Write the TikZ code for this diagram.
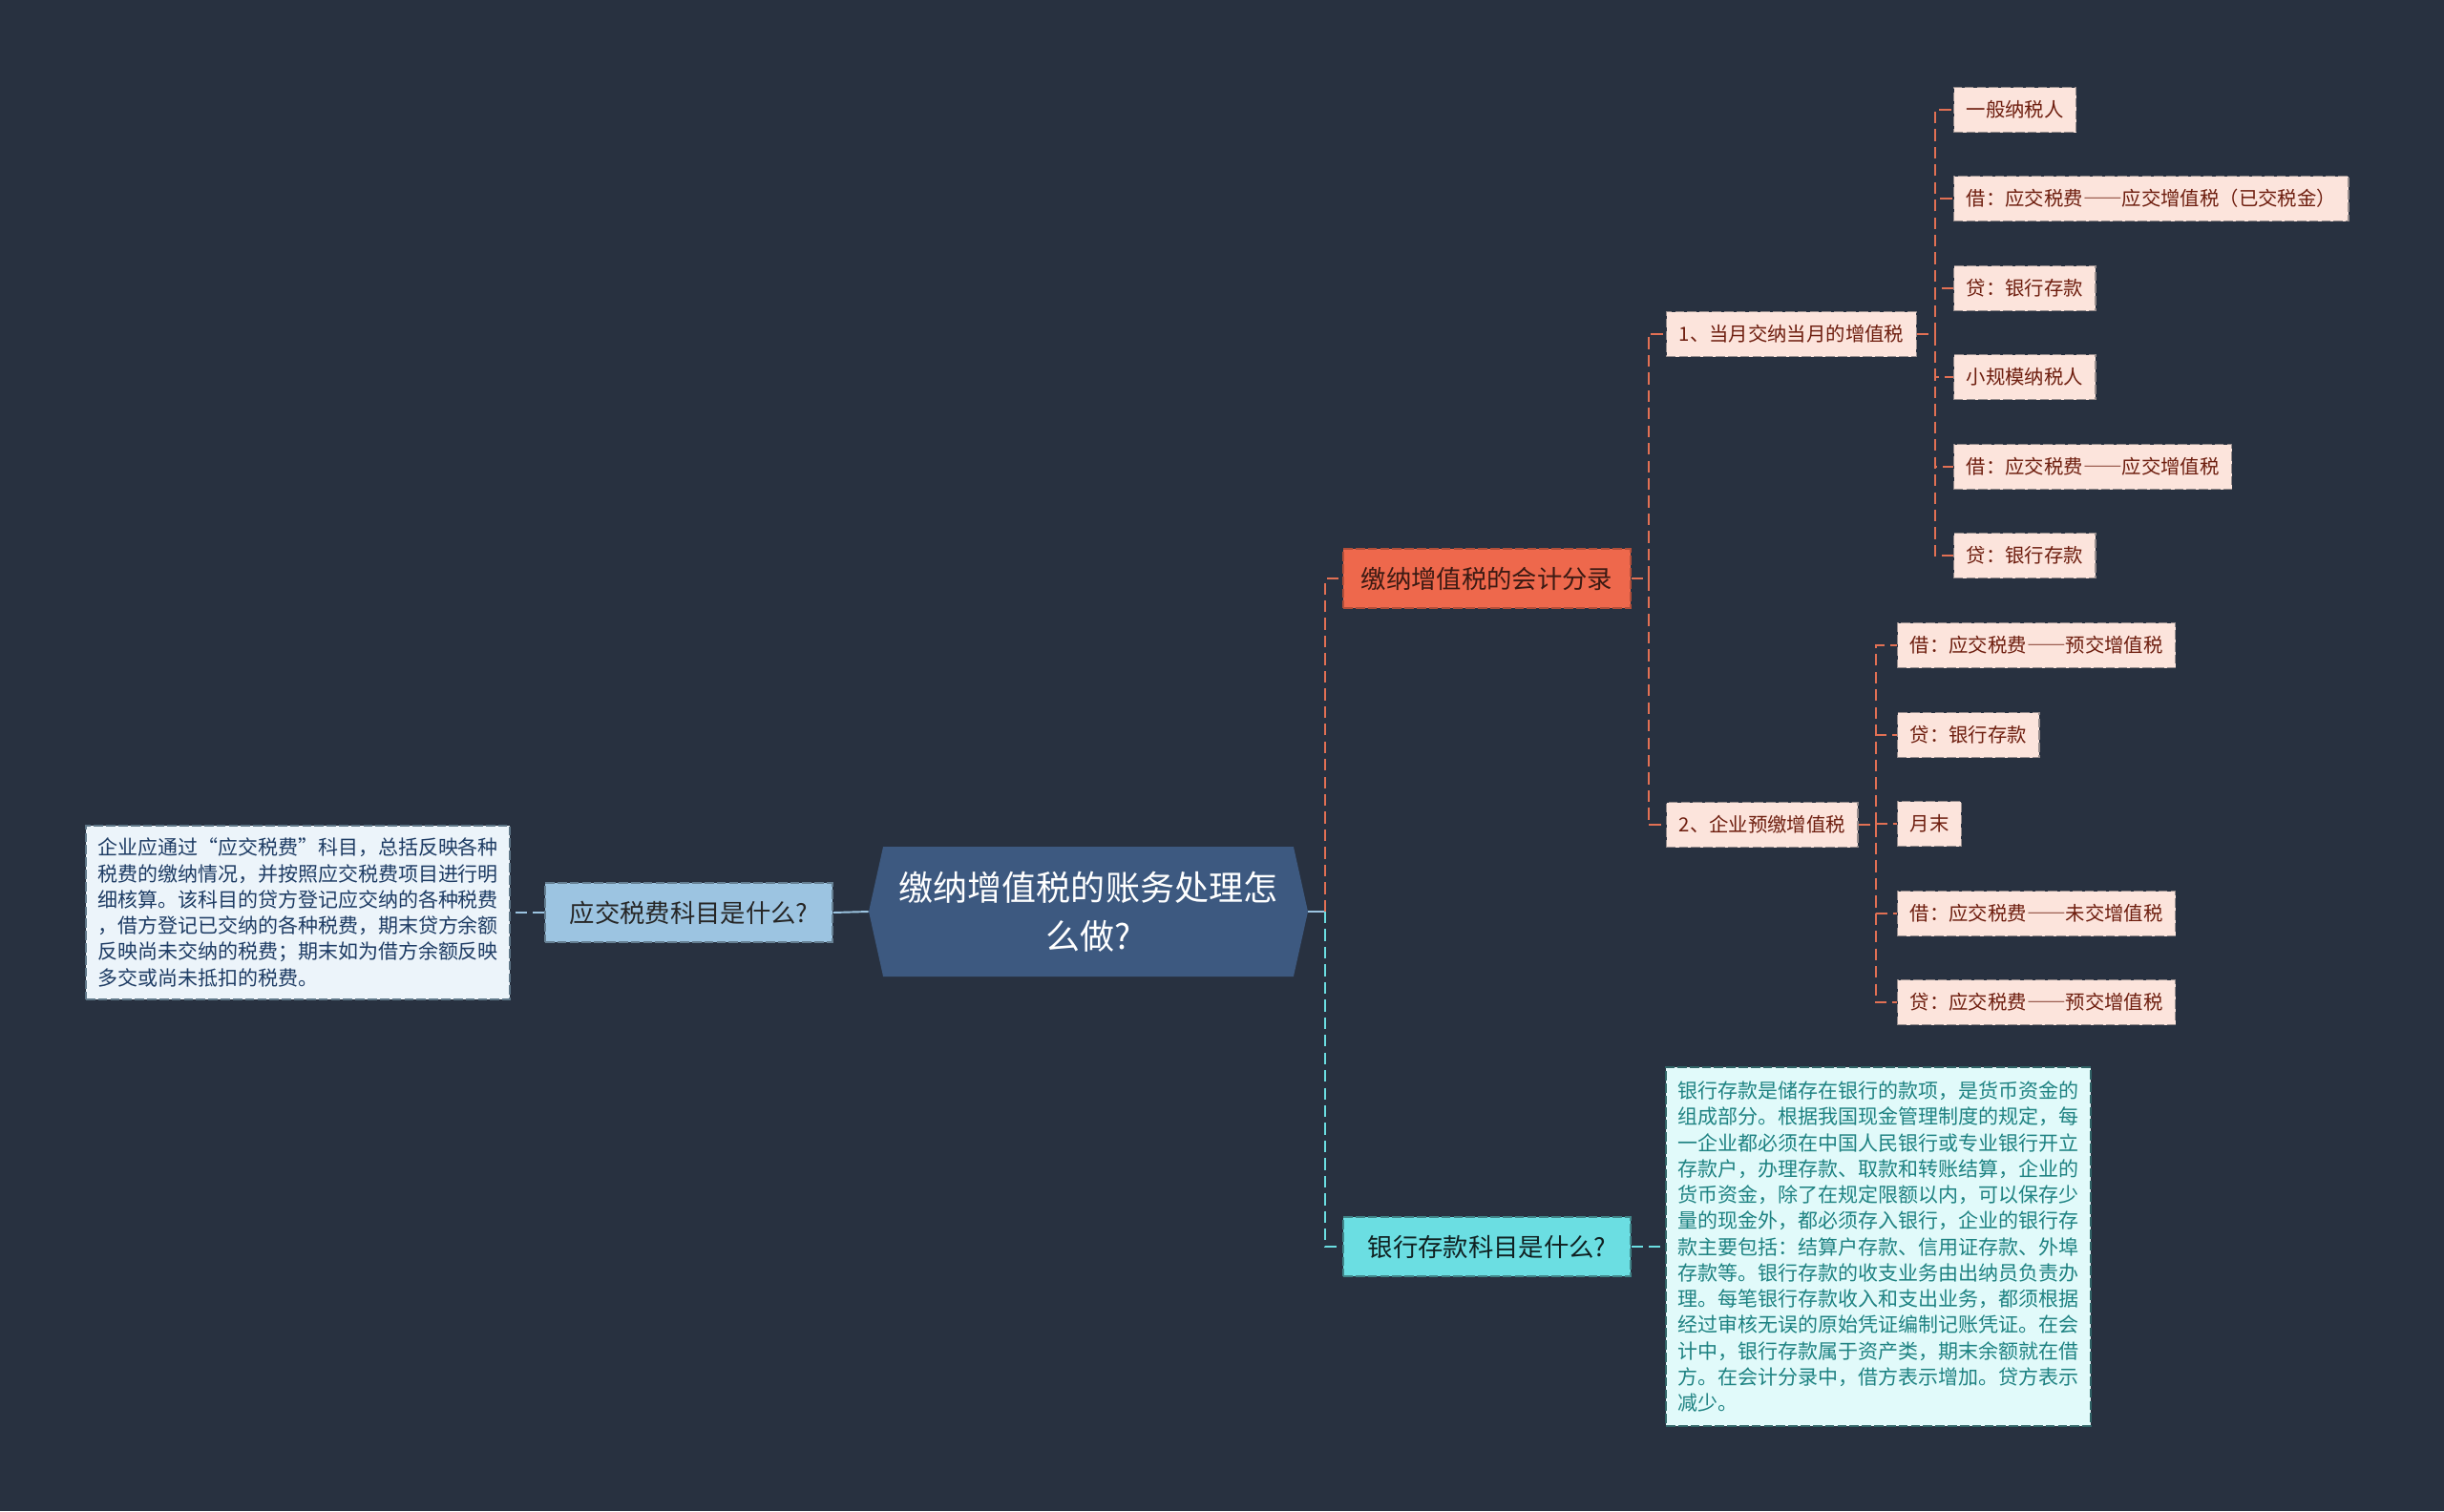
\documentclass[tikz,border=0pt]{standalone}
\usepackage{fontspec}
\setmainfont{Noto Sans CJK SC}
\usepackage{xcolor}
\usepackage{tikz}
\usetikzlibrary{positioning,shapes.symbols}

\definecolor{bgnavy}{RGB}{40,49,64}
\definecolor{rootblue}{RGB}{61,89,128}
\definecolor{skyfill}{RGB}{156,196,225}
\definecolor{skypale}{RGB}{236,244,250}
\definecolor{skytext}{RGB}{30,60,100}
\definecolor{coralfill}{RGB}{238,104,76}
\definecolor{coralline}{RGB}{226,112,84}
\definecolor{peachfill}{RGB}{252,228,220}
\definecolor{peachtext}{RGB}{110,30,15}
\definecolor{aquafill}{RGB}{107,222,226}
\definecolor{aquapale}{RGB}{225,250,250}
\definecolor{aquatext}{RGB}{30,130,130}
\definecolor{bordgray}{RGB}{150,140,140}

% full-width double dash
\newcommand{\wdash}{{\addfontfeatures{RawFeature=+fwid}——}}

\begin{document}
\begin{tikzpicture}[
  nd/.style={draw, dash pattern=on 5.5pt off 1.8pt, line width=0.8pt,
             inner xsep=2.6mm, inner ysep=1pt, minimum height=9.4mm},
  root/.style={signal, signal to=west and east, signal pointer angle=155,
               fill=rootblue, text=white, minimum width=92mm, minimum height=27.2mm,
               align=center, inner sep=1pt, font=\fontsize{20.5}{29}\selectfont},
  topic/.style={nd, minimum width=60.2mm, minimum height=12.4mm,
                font=\fontsize{15}{18}\selectfont},
  sky/.style={topic, fill=skyfill, draw=skyfill!65!black, text=black!85},
  coral/.style={topic, fill=coralfill, draw=coralfill!75!black, text=black!75!coralfill},
  aqua/.style={topic, fill=aquafill, draw=aquafill!60!black, text=black!85!aquafill},
  leaf/.style={nd, anchor=west, fill=peachfill, draw=bordgray, text=peachtext,
               font=\fontsize{11.6}{14}\selectfont},
  memo/.style={nd, align=left, inner xsep=2.4mm, font=\fontsize{11.95}{15.5}\selectfont},
  lnk/.style={line width=1.1pt, dash pattern=on 7pt off 3.5pt},
  rootln/.style={line width=1.1pt, skyfill},
]

\useasboundingbox (0,0) rectangle (51.2,-31.66);
\fill[bgnavy] (0,0) rectangle (51.2,-31.66);

% ====== centre ======
\node[root] (root) at (22.8,-19.1) {缴纳增值税的账务处理怎\\么做?};

% ====== left: tax payable account ======
\node[sky] (acct) at (14.43,-19.12) {应交税费科目是什么?};
\node[memo, fill=skypale, draw=skyfill!60!black, text=skytext,
      minimum width=88.8mm, minimum height=36.4mm] (acctmemo) at (6.24,-19.12)
  {企业应通过“应交税费”科目，总括反映各种\\
   税费的缴纳情况，并按照应交税费项目进行明\\
   细核算。该科目的贷方登记应交纳的各种税费\\
   ，借方登记已交纳的各种税费，期末贷方余额\\
   反映尚未交纳的税费；期末如为借方余额反映\\
   多交或尚未抵扣的税费。};
\draw[rootln] (root.west) -- (acct.east);
\draw[lnk, skyfill] (acct.west) -- (acctmemo.east);

% ====== right: entries and bank deposit ======
\node[coral] (entry) at (31.15,-12.12) {缴纳增值税的会计分录};
\node[aqua]  (bank)  at (31.15,-26.12) {银行存款科目是什么?};
\draw[rootln] (root.east) -- ++(0.36,0) coordinate (fork);
\draw[lnk, coralline] (fork) |- (entry.west);
\draw[lnk, aquafill] (fork) |- (bank.west);

% entry sub-topics
\node[leaf] (e1) at (34.9,-7.0)   {1、当月交纳当月的增值税};
\node[leaf] (e2) at (34.9,-17.28) {2、企业预缴增值税};
\draw[lnk, coralline] (entry.east) -- ++(0.36,0) |- (e1.west);
\draw[lnk, coralline] (entry.east) -- ++(0.36,0) |- (e2.west);

% ====== 1: paid in the same month ======
\node[leaf] (e1a) at (40.92,-2.30)  {一般纳税人};
\node[leaf] (e1b) at (40.92,-4.164) {借：应交税费\wdash 应交增值税（已交税金）};
\node[leaf] (e1c) at (40.92,-6.04)  {贷：银行存款};
\node[leaf] (e1d) at (40.92,-7.90)  {小规模纳税人};
\node[leaf] (e1e) at (40.92,-9.78)  {借：应交税费\wdash 应交增值税};
\node[leaf] (e1f) at (40.92,-11.64) {贷：银行存款};
\draw[lnk, coralline] (e1.east) -- ++(0.38,0) |- (e1a.west);
\draw[lnk, coralline] (e1.east) -- ++(0.38,0) |- (e1b.west);
\draw[lnk, coralline] (e1.east) -- ++(0.38,0) |- (e1c.west);
\draw[lnk, coralline] (e1.east) -- ++(0.38,0) |- (e1d.west);
\draw[lnk, coralline] (e1.east) -- ++(0.38,0) |- (e1e.west);
\draw[lnk, coralline] (e1.east) -- ++(0.38,0) |- (e1f.west);

% ====== 2: prepaid VAT ======
\node[leaf] (e2a) at (39.74,-13.52) {借：应交税费\wdash 预交增值税};
\node[leaf] (e2b) at (39.74,-15.40) {贷：银行存款};
\node[leaf] (e2c) at (39.74,-17.26) {月末};
\node[leaf] (e2d) at (39.74,-19.14) {借：应交税费\wdash 未交增值税};
\node[leaf] (e2e) at (39.74,-21.00) {贷：应交税费\wdash 预交增值税};
\draw[lnk, coralline] (e2.east) -- ++(0.36,0) |- (e2a.west);
\draw[lnk, coralline] (e2.east) -- ++(0.36,0) |- (e2b.west);
\draw[lnk, coralline] (e2.east) -- ++(0.36,0) |- (e2c.west);
\draw[lnk, coralline] (e2.east) -- ++(0.36,0) |- (e2d.west);
\draw[lnk, coralline] (e2.east) -- ++(0.36,0) |- (e2e.west);

% ====== bank deposit note ======
\node[memo, fill=aquapale, draw=aquafill!45!black, text=aquatext,
      minimum width=89mm, minimum height=75.2mm] (bankmemo) at (39.35,-26.12)
  {银行存款是储存在银行的款项，是货币资金的\\
   组成部分。根据我国现金管理制度的规定，每\\
   一企业都必须在中国人民银行或专业银行开立\\
   存款户，办理存款、取款和转账结算，企业的\\
   货币资金，除了在规定限额以内，可以保存少\\
   量的现金外，都必须存入银行，企业的银行存\\
   款主要包括：结算户存款、信用证存款、外埠\\
   存款等。银行存款的收支业务由出纳员负责办\\
   理。每笔银行存款收入和支出业务，都须根据\\
   经过审核无误的原始凭证编制记账凭证。在会\\
   计中，银行存款属于资产类，期末余额就在借\\
   方。在会计分录中，借方表示增加。贷方表示\\
   减少。};
\draw[lnk, aquafill] (bank.east) -- (bankmemo.west);

\end{tikzpicture}
\end{document}
